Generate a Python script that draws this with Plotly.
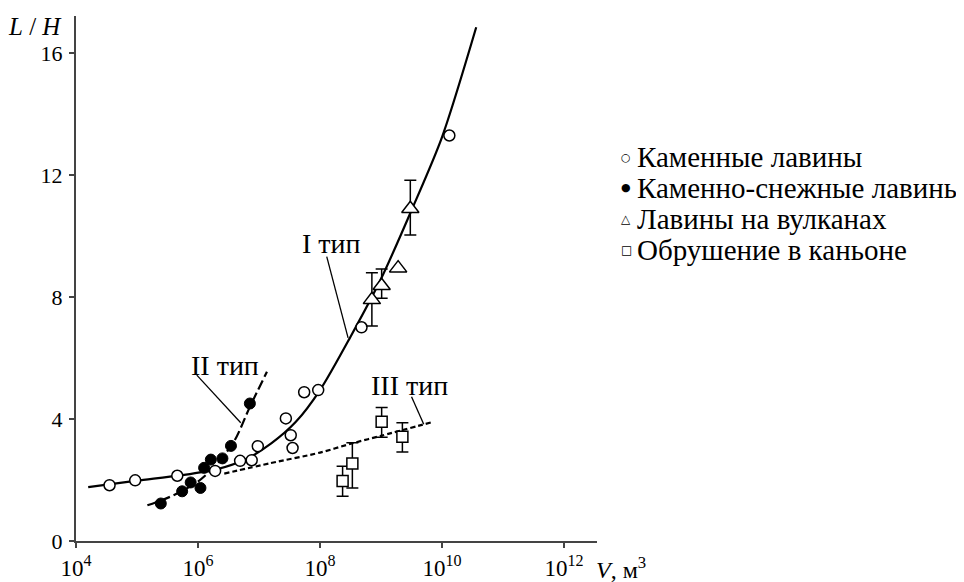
import numpy as np
import plotly.graph_objects as go

# ---------------- data (log10 V, L/H) ----------------
stone_logV = [4.55, 4.97, 5.66, 6.28, 6.69, 6.88, 6.98, 7.44, 7.52, 7.55, 7.74, 7.97, 8.68, 10.12]
stone_LH = [1.83, 1.99, 2.14, 2.30, 2.63, 2.65, 3.11, 4.02, 3.47, 3.05, 4.88, 4.95, 7.01, 13.3]

snow_logV = [5.39, 5.74, 5.88, 6.04, 6.10, 6.21, 6.40, 6.54, 6.85]
snow_LH = [1.23, 1.63, 1.92, 1.74, 2.40, 2.67, 2.71, 3.12, 4.51]

volc_logV = [8.85, 9.01, 9.28, 9.48]
volc_LH = [7.91, 8.37, 8.95, 10.9]
volc_err_plus = [0.89, 0.55, 0.0, 0.93]
volc_err_minus = [0.86, 0.41, 0.0, 0.86]

canyon_logV = [8.37, 8.53, 9.01, 9.35]
canyon_LH = [1.97, 2.54, 3.91, 3.42]
canyon_err_plus = [0.48, 0.68, 0.47, 0.46]
canyon_err_minus = [0.50, 0.80, 0.51, 0.50]

# fitted curves
curveI_logV = [4.2, 5.0, 5.7, 6.3, 6.8, 7.2, 7.6, 8.0, 8.5, 9.0, 9.5, 10.0, 10.56]
curveI_LH = [1.77, 1.98, 2.15, 2.35, 2.7, 3.2, 3.9, 4.95, 6.7, 8.6, 10.85, 13.25, 16.85]

curveII_logV = [5.17, 5.6, 6.0, 6.3, 6.6, 6.85, 7.13]
curveII_LH = [1.17, 1.5, 1.95, 2.5, 3.3, 4.4, 5.55]

curveIII_logV = [6.43, 7.18, 8.0, 8.52, 9.0, 9.86]
curveIII_LH = [2.21, 2.55, 2.9, 3.2, 3.45, 3.91]

# label positions and leader lines (log10 V, L/H)
type_labels = ["I тип", "II тип", "III тип"]
label_logV = [8.18, 6.44, 9.46]
label_LH = [9.77, 5.77, 5.11]
leader_logV = [[8.11, 8.46], [5.98, 6.70], [9.50, 9.70]]
leader_LH = [[9.33, 6.66], [5.44, 3.88], [4.73, 3.83]]

legend_names = ["Каменные лавины", "Каменно-снежные лавины", "Лавины на вулканах", "Обрушение в каньоне"]
legend_glyphs = ["○", "●", "△", "□"]

x_tickvals = [4, 6, 8, 10, 12]
y_tickvals = [0, 4, 8, 12, 16]

FONT = "Liberation Serif, Times New Roman, serif"
SYMFONT = "DejaVu Sans"
BLACK = "#000000"

# page body adds an 8px offset; plot area chosen so that it lands at screen x 76..597, y 16..541
OFF = 8
W, H = 964, 582
ML, MT = 76 - OFF, 16 - OFF
MB = H - (541 - OFF)
MR = W - (597 - OFF)
PW, PH = W - ML - MR, H - MT - MB


def px_x(px):
    return (px - OFF - ML) / PW


def px_y(py):
    return (H - MB - (py - OFF)) / PH


def p10(a):
    return np.power(10.0, np.array(a, dtype=float))


fig = go.Figure()

fig.add_trace(go.Scatter(x=p10(curveI_logV), y=curveI_LH, mode="lines", line=dict(color=BLACK, width=2.2, shape="spline", smoothing=0.8), showlegend=False, hoverinfo="skip"))
fig.add_trace(go.Scatter(x=p10(curveII_logV), y=curveII_LH, mode="lines", line=dict(color=BLACK, width=2.2, dash="10px,4px", shape="spline", smoothing=0.8), showlegend=False, hoverinfo="skip"))
fig.add_trace(go.Scatter(x=p10(curveIII_logV), y=curveIII_LH, mode="lines", line=dict(color=BLACK, width=2.2, dash="5px,3px", shape="spline", smoothing=0.8), showlegend=False, hoverinfo="skip"))

for lx, ly in zip(leader_logV, leader_LH):
    fig.add_trace(go.Scatter(x=p10(lx), y=ly, mode="lines", line=dict(color=BLACK, width=1.3), showlegend=False, hoverinfo="skip"))

fig.add_trace(go.Scatter(x=p10(stone_logV), y=stone_LH, mode="markers", name=legend_names[0],
                         marker=dict(symbol="circle", size=11, color="white", line=dict(color=BLACK, width=1.5)),
                         showlegend=False))
fig.add_trace(go.Scatter(x=p10(snow_logV), y=snow_LH, mode="markers", name=legend_names[1],
                         marker=dict(symbol="circle", size=11, color=BLACK, line=dict(color=BLACK, width=1)),
                         showlegend=False))
fig.add_trace(go.Scatter(x=p10(volc_logV), y=volc_LH, mode="markers", name=legend_names[2],
                         marker=dict(symbol="triangle-up", size=15, color="white", line=dict(color=BLACK, width=1.5)),
                         error_y=dict(type="data", symmetric=False, array=volc_err_plus, arrayminus=volc_err_minus,
                                      color=BLACK, thickness=1.5, width=6),
                         showlegend=False))
fig.add_trace(go.Scatter(x=p10(canyon_logV), y=canyon_LH, mode="markers", name=legend_names[3],
                         marker=dict(symbol="square", size=11, color="white", line=dict(color=BLACK, width=1.5)),
                         error_y=dict(type="data", symmetric=False, array=canyon_err_plus, arrayminus=canyon_err_minus,
                                      color=BLACK, thickness=1.5, width=6),
                         showlegend=False))

annotations = []
for t, lx, ly in zip(type_labels, label_logV, label_LH):
    annotations.append(dict(x=lx, y=ly, xref="x", yref="y", text=t, showarrow=False,
                            font=dict(family=FONT, size=28, color=BLACK)))

# legend as text rows
row_y = [157, 188, 219, 250]
glyph_sizes = [11, 11, 12, 12]
for name, g, gs, ry in zip(legend_names, legend_glyphs, glyph_sizes, row_y):
    annotations.append(dict(x=px_x(626), y=px_y(ry), xref="paper", yref="paper", xanchor="center", yanchor="middle",
                            text=g, showarrow=False, font=dict(family=SYMFONT, size=gs, color=BLACK)))
    annotations.append(dict(x=px_x(635), y=px_y(ry), xref="paper", yref="paper", xanchor="left", yanchor="middle",
                            text=name, showarrow=False, font=dict(family=FONT, size=29, color=BLACK)))

annotations.append(dict(x=px_x(594), y=px_y(568), xref="paper", yref="paper", xanchor="left", yanchor="middle",
                        text="<i>V</i>, м<sup>3</sup>", showarrow=False, font=dict(family=FONT, size=24, color=BLACK)))
annotations.append(dict(x=px_x(64), y=px_y(27), xref="paper", yref="paper", xanchor="right", yanchor="middle",
                        text="<i>L</i> / <i>H</i>", showarrow=False, font=dict(family=FONT, size=25, color=BLACK)))

fig.update_layout(
    width=W, height=H,
    margin=dict(l=ML, r=MR, t=MT, b=MB, autoexpand=False),
    paper_bgcolor="white", plot_bgcolor="white",
    font=dict(family=FONT, size=22, color=BLACK),
    annotations=annotations,
    showlegend=False,
    xaxis=dict(type="log", range=[4, 12.54], tickvals=p10(x_tickvals),
               ticktext=["10<sup>%d</sup>" % v for v in x_tickvals],
               showgrid=False, zeroline=False, showline=True, linecolor="#444", linewidth=2,
               ticks="outside", ticklen=5, tickwidth=1.5, tickcolor="#444", automargin=False,
               tickfont=dict(family=FONT, size=23, color=BLACK)),
    yaxis=dict(range=[0, 17.22], tickvals=y_tickvals, showgrid=False, zeroline=False,
               showline=True, linecolor="#444", linewidth=2, automargin=False,
               ticks="outside", ticklen=5, tickwidth=1.5, tickcolor="#444", ticklabelstandoff=2,
               tickfont=dict(family=FONT, size=22, color=BLACK)),
)

fig.write_html("out.html")
